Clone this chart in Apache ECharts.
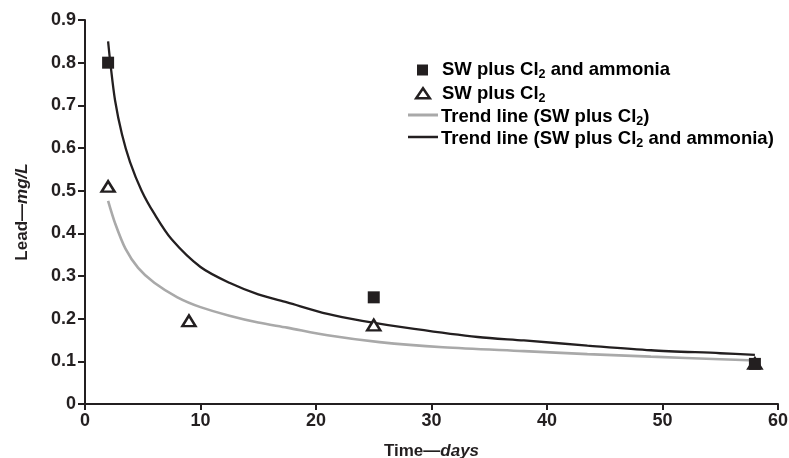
<!DOCTYPE html>
<html>
<head>
<meta charset="utf-8">
<script src="https://cdn.jsdelivr.net/npm/echarts@6/dist/echarts.min.js"></script>
<style>html,body{margin:0;padding:0;background:#fff}#c{width:789px;height:458px}</style>
</head>
<body>
<div id="c"></div>
<script>
// Measured points
var ammoniaX = [2, 25, 58];
var ammoniaY = [0.80, 0.25, 0.094];
var cl2X = [2, 9, 25, 58];
var cl2Y = [0.51, 0.195, 0.185, 0.095];
// Trend lines
var trendAmmX = [2, 2.2, 2.6, 3.2, 3.9, 4.9, 6, 7.5, 10, 12.5, 15, 17.5, 21, 24, 28.5, 34, 38, 43.5, 49, 55, 58];
var trendAmmY = [0.850, 0.798, 0.712, 0.632, 0.567, 0.500, 0.446, 0.386, 0.321, 0.284, 0.257, 0.238, 0.211, 0.195, 0.176, 0.157, 0.149, 0.137, 0.126, 0.119, 0.115];
var trendClX = [2, 2.6, 3.5, 4.6, 6, 8, 10, 12.5, 15, 17.5, 21, 25.5, 31, 38, 43.5, 49, 55, 58];
var trendClY = [0.476, 0.424, 0.364, 0.319, 0.284, 0.250, 0.227, 0.207, 0.191, 0.179, 0.161, 0.145, 0.133, 0.124, 0.117, 0.111, 0.105, 0.102];
var xTicks = [0, 10, 20, 30, 40, 50, 60];
var yTicks = [0, 0.1, 0.2, 0.3, 0.4, 0.5, 0.6, 0.7, 0.8, 0.9];
var legendLabels = [
  ['SW plus Cl', '2', ' and ammonia'],
  ['SW plus Cl', '2', ''],
  ['Trend line (SW plus Cl', '2', ')'],
  ['Trend line (SW plus Cl', '2', ' and ammonia)']
];

function pairs(xs, ys) { return xs.map(function (x, i) { return [x, ys[i]]; }); }

var FONT = '"Liberation Sans", Arial, sans-serif';
var INK = '#231f20';
var GREY = '#a9a9a9';
var rich = {
  a: { fontFamily: FONT, fontWeight: 'bold', fontSize: 18.5, color: INK },
  s: { fontFamily: FONT, fontWeight: 'bold', fontSize: 12.5, color: INK, padding: [10, 0, 0, 0] }
};
function legendText(i) {
  var p = legendLabels[i];
  return '{a|' + p[0] + '}{s|' + p[1] + '}' + (p[2] ? '{a|' + p[2] + '}' : '');
}
var rowY = [69, 92.7, 116, 138];
var chart = echarts.init(document.getElementById('c'));
chart.setOption({
  animation: false,
  backgroundColor: '#fff',
  grid: { left: 85, right: 11, top: 20, bottom: 54, containLabel: false, outerBoundsMode: 'none' },
  graphic: [
    { type: 'rect', shape: { x: 417, y: 64.5, width: 11, height: 11 }, style: { fill: INK } },
    { type: 'polygon', shape: { points: [[423, 88.3], [429.8, 98.3], [416.2, 98.3]] }, style: { fill: '#fff', stroke: INK, lineWidth: 2.5 } },
    { type: 'line', shape: { x1: 408, y1: 115, x2: 438, y2: 115 }, style: { stroke: GREY, lineWidth: 3 } },
    { type: 'line', shape: { x1: 408, y1: 137, x2: 438, y2: 137 }, style: { stroke: INK, lineWidth: 2.5 } }
  ].concat(rowY.map(function (y, i) {
    return { type: 'text', x: i < 2 ? 442 : 441, y: y + 1,
      style: { text: legendText(i), rich: rich, verticalAlign: 'middle', align: 'left' } };
  })),
  xAxis: {
    type: 'value', min: 0, max: 60, interval: 10,
    name: 'Time—{i|days}', nameLocation: 'middle', nameGap: 39,
    nameTextStyle: { fontFamily: FONT, fontWeight: 'bold', fontSize: 17, color: INK,
      rich: { i: { fontFamily: FONT, fontWeight: 'bold', fontStyle: 'italic', fontSize: 17, color: INK } } },
    axisLine: { lineStyle: { color: INK, width: 2 } },
    axisTick: { show: true, length: 6, inside: false, lineStyle: { color: INK, width: 2 } },
    axisLabel: { fontFamily: FONT, fontWeight: 'bold', fontSize: 18, color: INK, margin: 8,
      formatter: function (v) { return xTicks.indexOf(v) >= 0 ? String(v) : ''; } },
    splitLine: { show: false }
  },
  yAxis: {
    type: 'value', min: 0, max: 0.9, interval: 0.1,
    name: 'Lead—{i|mg/L}', nameLocation: 'middle', nameGap: 54, nameRotate: 90,
    nameTextStyle: { fontFamily: FONT, fontWeight: 'bold', fontSize: 17, color: INK,
      rich: { i: { fontFamily: FONT, fontWeight: 'bold', fontStyle: 'italic', fontSize: 17, color: INK } } },
    axisLine: { show: true, lineStyle: { color: INK, width: 2 } },
    axisTick: { show: true, length: 7, inside: false, lineStyle: { color: INK, width: 2 } },
    axisLabel: { fontFamily: FONT, fontWeight: 'bold', fontSize: 18, color: INK, margin: 9,
      formatter: function (v) {
        for (var i = 0; i < yTicks.length; i++) {
          if (Math.abs(v - yTicks[i]) < 1e-6) return yTicks[i] === 0 ? '0' : yTicks[i].toFixed(1);
        }
        return '';
      } },
    splitLine: { show: false }
  },
  series: [
    { name: 'Trend line (SW plus Cl2)', type: 'line', data: pairs(trendClX, trendClY), symbol: 'none', smooth: 0.3,
      lineStyle: { color: GREY, width: 2.6 }, itemStyle: { color: GREY }, z: 2 },
    { name: 'Trend line (SW plus Cl2 and ammonia)', type: 'line', data: pairs(trendAmmX, trendAmmY), symbol: 'none', smooth: 0.3,
      lineStyle: { color: INK, width: 2.3 }, itemStyle: { color: INK }, z: 3 },
    { name: 'SW plus Cl2', type: 'scatter', data: pairs(cl2X, cl2Y), symbol: 'triangle', symbolSize: [13, 10.5],
      itemStyle: { color: '#ffffff', borderColor: INK, borderWidth: 2.5, opacity: 1 }, z: 4 },
    { name: 'SW plus Cl2 and ammonia', type: 'scatter', data: pairs(ammoniaX, ammoniaY), symbol: 'rect', symbolSize: 12,
      itemStyle: { color: INK, opacity: 1 }, z: 5 }
  ]
});
</script>
</body>
</html>
